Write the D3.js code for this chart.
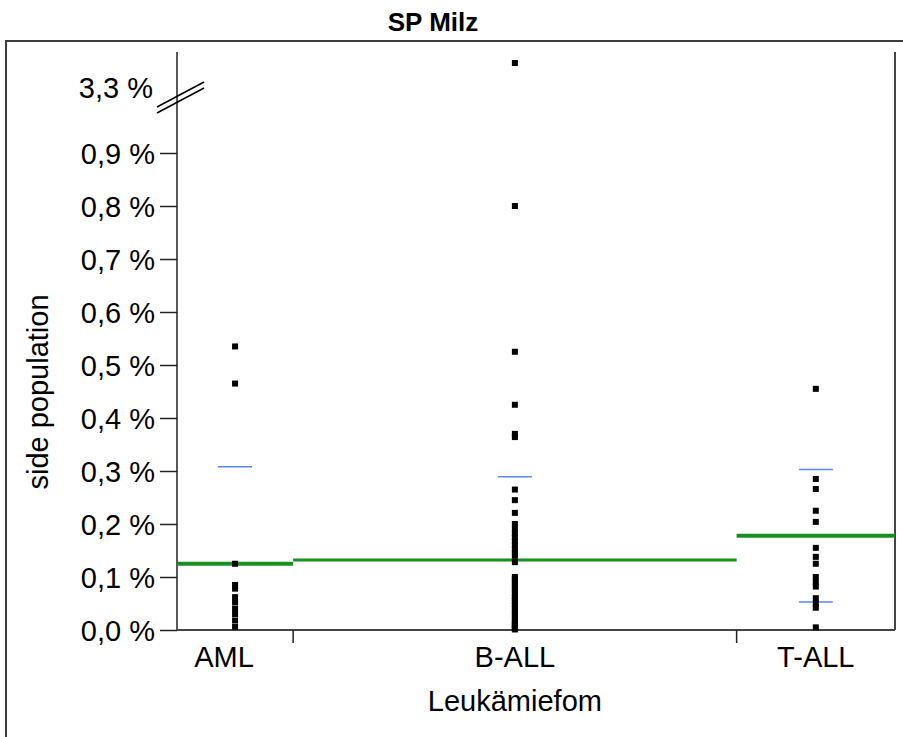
<!DOCTYPE html>
<html>
<head>
<meta charset="utf-8">
<script src="https://cdn.jsdelivr.net/npm/d3@7"></script>
<style>
    body { margin: 0; background: #fff; }
    text { font-family: "Liberation Sans", Arial, sans-serif; fill: #000; }
</style>
</head>
<body>
<div id="chart"></div>
<script>
// Leukaemia groups and their single measurements (side population, %)
const groups = ["AML", "B-ALL", "T-ALL"];
const amlValues = [0.535, 0.465, 0.125, 0.085, 0.078, 0.062, 0.052, 0.04, 0.03, 0.018, 0.006];
const ballValues = [3.36, 0.8, 0.525, 0.425, 0.37, 0.364, 0.265, 0.245, 0.221, 0.2, 0.19,
    0.182, 0.175, 0.167, 0.16, 0.152, 0.146, 0.14, 0.128, 0.1, 0.096, 0.09, 0.086, 0.08,
    0.076, 0.07, 0.064, 0.06, 0.055, 0.05, 0.046, 0.04, 0.035, 0.03, 0.026, 0.02, 0.016,
    0.012, 0.009, 0.006, 0.003, 0.001];
const tallValues = [0.455, 0.285, 0.266, 0.225, 0.204, 0.155, 0.138, 0.125, 0.1, 0.09,
    0.082, 0.06, 0.05, 0.042, 0.005];
// group means (green) and standard deviations (blue marks)
const means = [0.125, 0.132, 0.178];
const sds = [0.183, 0.157, 0.125];
const yTicks = [0, 0.1, 0.2, 0.3, 0.4, 0.5, 0.6, 0.7, 0.8, 0.9];
const breakTick = 3.3;

const width = 903, height = 737;
const plot = {left: 177, right: 895, top: 52, bottom: 630};
const fontSize = "29px";

let svg = d3.select("#chart")
    .append("svg")
    .attr("width", width)
    .attr("height", height);

// outer frame (runs off the picture on the right and bottom)
svg.append("rect")
    .attr("x", 6).attr("y", 41)
    .attr("width", width).attr("height", height)
    .attr("fill", "none")
    .attr("stroke", "#3c3c3c")
    .attr("stroke-width", 2);

svg.append("text")
    .attr("x", 433).attr("y", 31)
    .attr("text-anchor", "middle")
    .style("font-size", "26px")
    .style("font-weight", "bold")
    .text("SP Milz");

// y scales: lower part 0 - 0.9 %, upper part after the axis break
let y = d3.scaleLinear().domain([0, 0.9]).range([plot.bottom, 153]);
let yTop = d3.scaleLinear().domain([3.3, 3.36]).range([88, 63]);
let yPos = function (v) {
    return v > 1 ? yTop(v) : y(v);
};

// x: each group gets a band proportional to its number of values
let allValues = [amlValues, ballValues, tallValues];
let counts = allValues.map(function (d) { return d.length; });
let cum = [0];
counts.forEach(function (c, i) { cum.push(cum[i] + c); });
let x = d3.scaleLinear().domain([0, cum[cum.length - 1]]).range([plot.left, plot.right]);

let fmt = function (d) {
    return d3.format(".1f")(d).replace(".", ",") + " %";
};

// y axis
let yAxis = svg.append("g")
    .attr("transform", `translate(${plot.left},0)`)
    .call(d3.axisLeft(y).tickValues(yTicks).tickSize(17).tickPadding(5).tickFormat(fmt));
yAxis.select(".domain").remove();
yAxis.selectAll(".tick line").attr("stroke", "#222").attr("stroke-width", 1.5);
yAxis.selectAll(".tick text")
    .style("font-size", fontSize)
    .attr("dy", "0.36em");

// axis line, x axis line and right border
svg.append("line")
    .attr("x1", plot.left).attr("x2", plot.left)
    .attr("y1", plot.top).attr("y2", plot.bottom)
    .attr("stroke", "#222").attr("stroke-width", 1.5);
svg.append("line")
    .attr("x1", plot.left).attr("x2", plot.right)
    .attr("y1", plot.bottom).attr("y2", plot.bottom)
    .attr("stroke", "#444").attr("stroke-width", 2);
svg.append("line")
    .attr("x1", plot.right).attr("x2", plot.right)
    .attr("y1", plot.top).attr("y2", plot.bottom)
    .attr("stroke", "#444").attr("stroke-width", 2);

// axis break mark + label
let by = yTop(breakTick);
[0, 6].forEach(function (off) {
    svg.append("line")
        .attr("x1", 157).attr("y1", by + 19 + off)
        .attr("x2", 204).attr("y2", by - 6 + off)
        .attr("stroke", "#000").attr("stroke-width", 1.5);
});
svg.append("text")
    .attr("x", 153).attr("y", by)
    .attr("dy", "0.36em")
    .attr("text-anchor", "end")
    .style("font-size", fontSize)
    .text(fmt(breakTick));

// x ticks at group boundaries
cum.slice(1, -1).forEach(function (c) {
    svg.append("line")
        .attr("x1", x(c)).attr("x2", x(c))
        .attr("y1", plot.bottom).attr("y2", plot.bottom + 13)
        .attr("stroke", "#222").attr("stroke-width", 1.5);
});

groups.forEach(function (g, i) {
    let cx = x((cum[i] + cum[i + 1]) / 2);
    svg.append("text")
        .attr("x", i === 0 ? cx - 11 : cx).attr("y", 667)
        .attr("text-anchor", "middle")
        .style("font-size", fontSize)
        .text(g);

    // mean line over the whole band
    svg.append("line")
        .attr("x1", x(cum[i])).attr("x2", x(cum[i + 1]))
        .attr("y1", y(means[i])).attr("y2", y(means[i]))
        .attr("stroke", "#17901f")
        .attr("stroke-width", i === 1 ? 3 : 4);

    // mean +/- sd marks
    [means[i] + sds[i], means[i] - sds[i]].forEach(function (v) {
        if (v < 0) return;
        svg.append("line")
            .attr("x1", cx - 17).attr("x2", cx + 17)
            .attr("y1", y(v)).attr("y2", y(v))
            .attr("stroke", "#5a87f0")
            .attr("stroke-width", 1.5);
    });

    svg.selectAll(null)
        .data(allValues[i])
        .enter()
        .append("rect")
        .attr("x", cx - 3)
        .attr("y", function (d) { return yPos(d) - 3; })
        .attr("width", 6)
        .attr("height", 6)
        .attr("fill", "#000");
});

// axis titles
svg.append("text")
    .attr("x", x((cum[1] + cum[2]) / 2)).attr("y", 711)
    .attr("text-anchor", "middle")
    .style("font-size", fontSize)
    .text("Leukämiefom");

svg.append("text")
    .attr("transform", "translate(48,392) rotate(-90)")
    .attr("text-anchor", "middle")
    .style("font-size", fontSize)
    .text("side population");
</script>
</body>
</html>
